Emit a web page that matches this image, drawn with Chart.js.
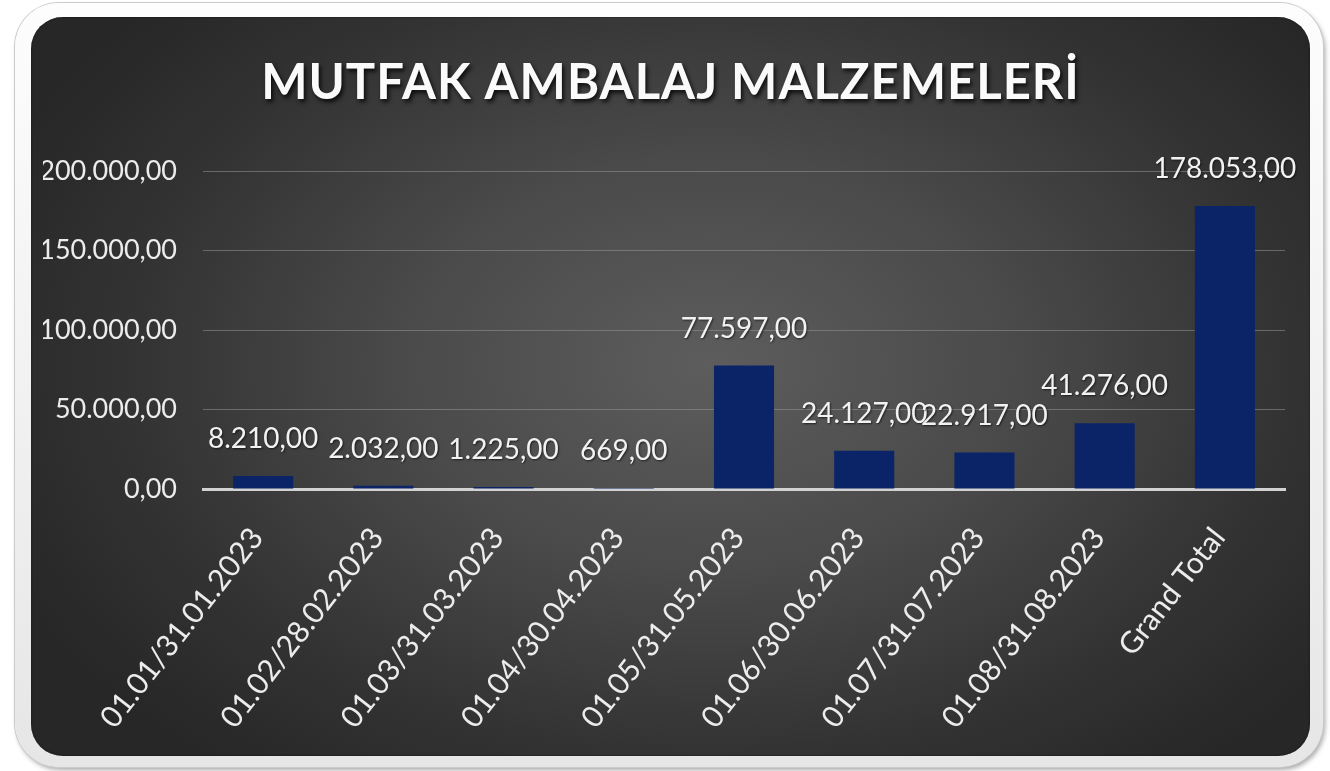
<!DOCTYPE html>
<html>
<head>
<meta charset="utf-8">
<script src="https://cdn.jsdelivr.net/npm/chart.js@4"></script>
<style>
html, body { margin: 0; width: 1330px; height: 771px; background: #fff; overflow: hidden; }
#frame { position: absolute; left: 15px; top: 3px; width: 1308px; height: 764px; border-radius: 44px;
  background: linear-gradient(#fdfdfd, #e6e6e6); box-shadow: 0 0 0 1px #cbcbcb, 2px 3px 5px rgba(0,0,0,.35); }
#panel { position: absolute; left: 31px; top: 17px; width: 1279px; height: 739px; border-radius: 32px; overflow: hidden;
  background: radial-gradient(ellipse 60% 70% at 53% 47%, #5d5d5d 0%, #4a4a4a 40%, #333 75%, #272727 100%);
  box-shadow: inset 0 0 2px #111; }
#wrap { position: absolute; left: 0; top: 0; width: 1279px; height: 739px; }
</style>
</head>
<body>
<div id="frame"></div>
<div id="panel"><div id="wrap"><canvas id="chart"></canvas></div></div>
<script>
const title = 'MUTFAK AMBALAJ MALZEMELERİ'
const categories = ['01.01/31.01.2023', '01.02/28.02.2023', '01.03/31.03.2023', '01.04/30.04.2023',
  '01.05/31.05.2023', '01.06/30.06.2023', '01.07/31.07.2023', '01.08/31.08.2023', 'Grand Total']
const values = [8210, 2032, 1225, 669, 77597, 24127, 22917, 41276, 178053]
const yMax = 200000
const yStep = 50000

const fmt = v => {
  const [i, d] = Number(v).toFixed(2).split('.')
  return i.replace(/\B(?=(\d{3})+(?!\d))/g, '.') + ',' + d
}
const FONT = 'Lato, "Open Sans", sans-serif'

// title with shadow, drawn on top
const titlePlugin = {
  id: 'shadowTitle',
  afterDraw(chart) {
    const ctx = chart.ctx
    ctx.save()
    ctx.font = 'bold 49px ' + FONT
    if ('letterSpacing' in ctx) ctx.letterSpacing = '1px'
    ctx.textAlign = 'center'
    ctx.textBaseline = 'middle'
    ctx.shadowColor = 'rgba(0,0,0,0.8)'
    ctx.shadowOffsetX = 2
    ctx.shadowOffsetY = 3
    ctx.shadowBlur = 4
    ctx.fillStyle = '#fafafa'
    ctx.fillText(title, chart.width / 2, 66)
    ctx.restore()
  }
}

// value labels above bars
const labelPlugin = {
  id: 'barLabels',
  afterDatasetsDraw(chart) {
    const ctx = chart.ctx
    const meta = chart.getDatasetMeta(0)
    ctx.save()
    ctx.font = '28px ' + FONT
    ctx.textAlign = 'center'
    ctx.textBaseline = 'alphabetic'
    ctx.fillStyle = '#f2f2f2'
    ctx.shadowColor = 'rgba(0,0,0,0.6)'
    ctx.shadowOffsetX = 1
    ctx.shadowOffsetY = 1
    ctx.shadowBlur = 2
    meta.data.forEach((bar, i) => {
      ctx.fillText(fmt(values[i]), bar.x, bar.y - 28)
    })
    ctx.restore()
  }
}

new Chart(document.getElementById('chart'), {
  type: 'bar',
  data: {
    labels: categories,
    datasets: [{ data: values, backgroundColor: '#0b2468', barPercentage: 0.5, categoryPercentage: 1 }]
  },
  options: {
    responsive: true,
    maintainAspectRatio: false,
    animation: false,
    layout: { padding: { top: 154, left: 12, right: 25, bottom: 0 } },
    plugins: { legend: { display: false }, title: { display: false }, tooltip: { enabled: false } },
    scales: {
      x: {
        z: 1,
        grid: { display: false },
        border: { color: '#d2d2d2', width: 3 },
        ticks: { color: '#ececec', font: { family: FONT, size: 30 }, minRotation: 52, maxRotation: 52, padding: 24, labelOffset: -6 },
        afterFit: s => { s.height = 267 }
      },
      y: {
        min: 0,
        max: yMax,
        grid: { color: 'rgba(150,150,150,0.55)', lineWidth: 1, drawTicks: false },
        border: { display: false },
        ticks: { stepSize: yStep, color: '#ececec', font: { family: FONT, size: 27 }, padding: 26, callback: v => fmt(v) },
        afterFit: s => { s.width = 160 }
      }
    }
  },
  plugins: [titlePlugin, labelPlugin]
})
</script>
</body>
</html>
